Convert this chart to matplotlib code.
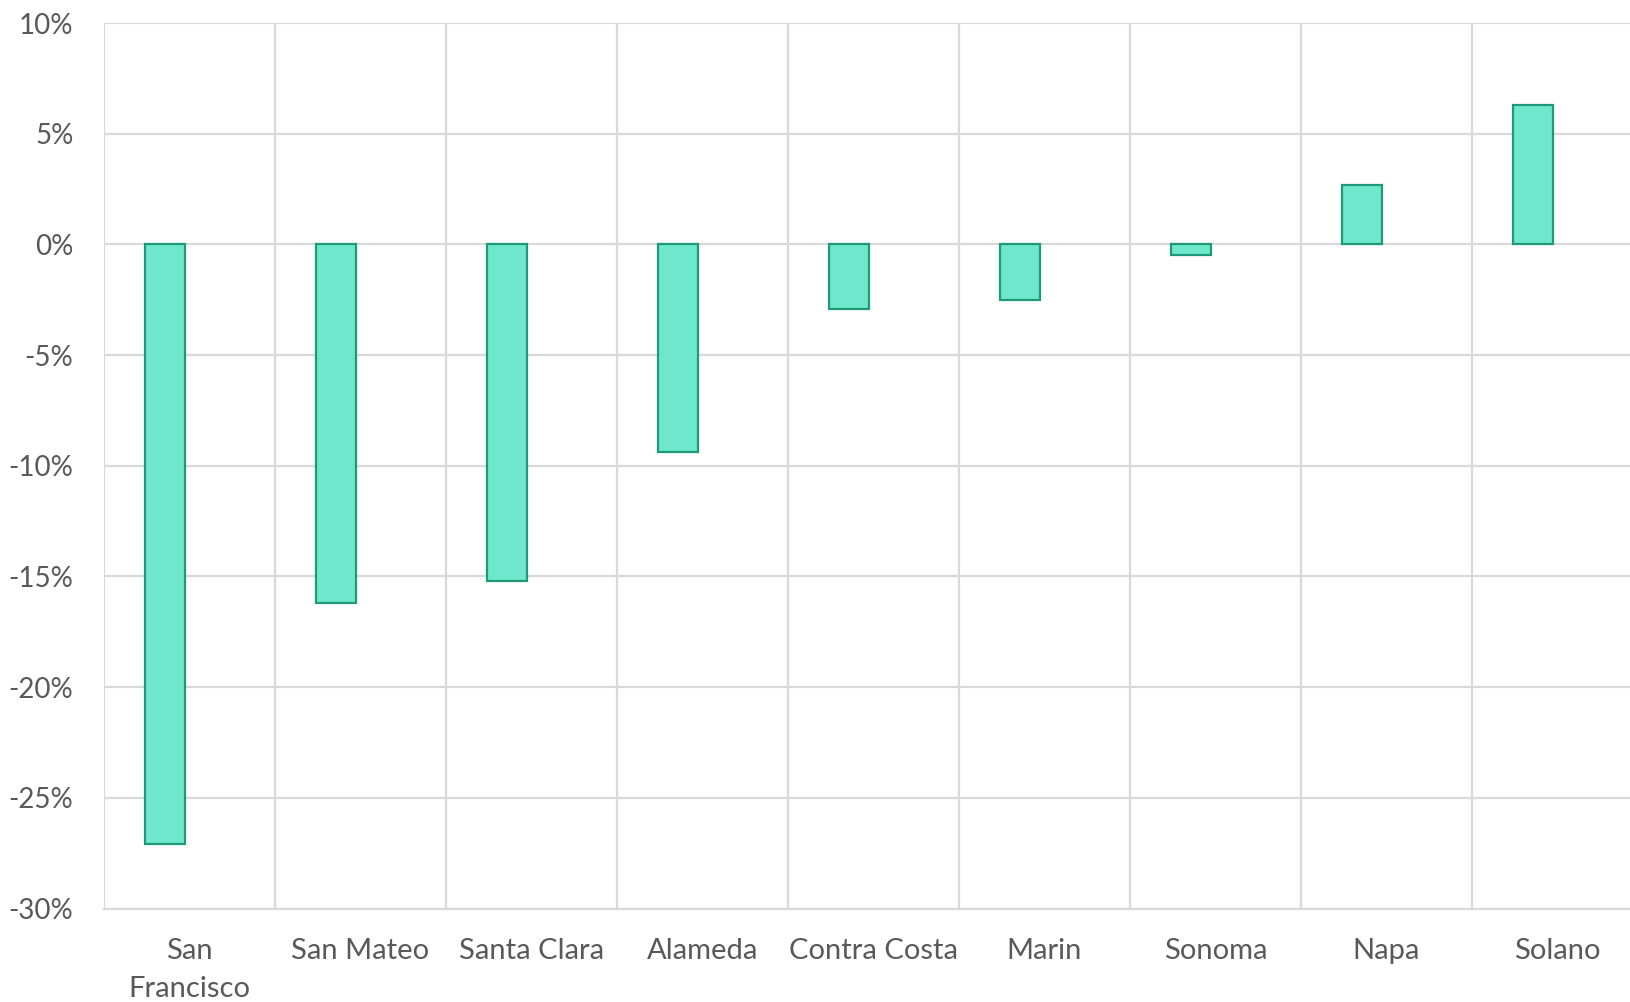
import matplotlib
matplotlib.use("Agg")
import matplotlib.pyplot as plt
import numpy as np
from matplotlib.ticker import FixedLocator, FuncFormatter

counties = ["San\nFrancisco", "San Mateo", "Santa Clara", "Alameda", "Contra Costa",
            "Marin", "Sonoma", "Napa", "Solano"]
change_pct = [-27.1, -16.2, -15.2, -9.4, -2.9, -2.5, -0.5, 2.7, 6.3]
y_ticks = [10, 5, 0, -5, -10, -15, -20, -25, -30]

plt.rcParams['font.family'] = ['Lato', 'DejaVu Sans']

W, H = 1630, 1002
fig = plt.figure(figsize=(W / 100, H / 100), dpi=100)
left_px, right_px, top_px, bot_px = 104, 1643, 23, 908.5
ax = fig.add_axes([left_px / W, 1 - bot_px / H, (right_px - left_px) / W, (bot_px - top_px) / H])

x = np.arange(len(counties))
ax.bar(x - 0.143, change_pct, width=0.234, color="#6EE7CC", edgecolor="#1E9A78",
       linewidth=1.6, zorder=3)

ax.set_xlim(-0.5, len(counties) - 0.5)
ax.set_ylim(-30, 10)
ax.set_yticks(y_ticks)
ax.yaxis.set_major_formatter(FuncFormatter(lambda v, p: f"{int(v)}%"))
ax.set_xticks(x)
ax.set_xticklabels(counties, linespacing=1.6)
ax.xaxis.set_minor_locator(FixedLocator(np.arange(-0.5, len(counties), 1.0)))

ax.grid(axis="y", which="major", color="#D9D9D9", linewidth=1.6, zorder=0)
ax.grid(axis="x", which="minor", color="#D9D9D9", linewidth=1.6, zorder=0)
ax.grid(axis="x", which="major", visible=False)

for s in ["top", "right", "left"]:
    ax.spines[s].set_visible(False)
ax.spines["bottom"].set_color("#D9D9D9")
ax.spines["bottom"].set_linewidth(1.6)

ax.tick_params(axis="both", which="both", length=0, labelcolor="#595959")
ax.tick_params(axis="y", pad=22, labelsize=20)
ax.tick_params(axis="x", pad=21, labelsize=21)

fig.savefig("out.png", dpi=100, facecolor="white")
